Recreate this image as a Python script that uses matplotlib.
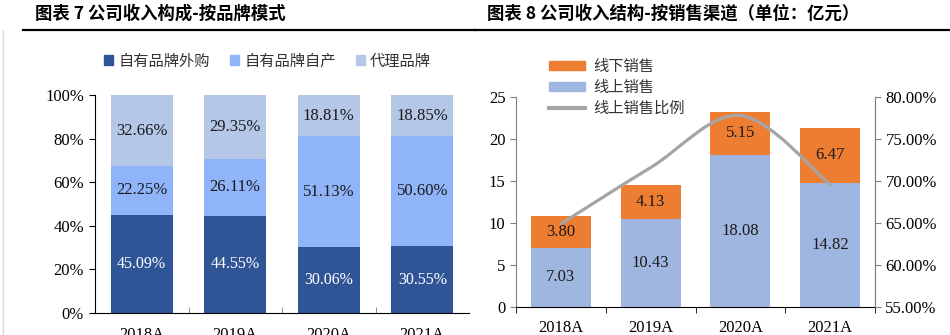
import numpy as np
import matplotlib
matplotlib.use('Agg')
import matplotlib.pyplot as plt
from matplotlib.patches import Patch, PathPatch
from matplotlib.lines import Line2D
from matplotlib.path import Path

plt.rcParams['font.family'] = ['Liberation Serif', 'Noto Sans CJK SC']

years = ['2018A', '2019A', '2020A', '2021A']

# left chart: brand mode share
own_outsourced = [45.09, 44.55, 30.06, 30.55]
own_produced = [22.25, 26.11, 51.13, 50.60]
agency = [32.66, 29.35, 18.81, 18.85]
left_names = ['自有品牌外购', '自有品牌自产', '代理品牌']

# right chart: sales channel (100m yuan)
online = [7.03, 10.43, 18.08, 14.82]
offline = [3.80, 4.13, 5.15, 6.47]
online_ratio = [64.9, 71.6, 77.8, 69.6]
right_names = ['线下销售', '线上销售', '线上销售比例']

c_dark = '#2F5597'
c_mid = '#8FB4F9'
c_light = '#B4C7E7'
c_orange = '#ED7D31'
c_blue = '#9FB6E0'
c_gray = '#A5A5A5'

W, H = 950, 335
fig = plt.figure(figsize=(W / 100, H / 100), dpi=100)
cjk = ['Noto Sans CJK SC', 'DejaVu Sans']

# titles and rules
fig.text(35 / W, 1 - 14 / H, '图表 7 公司收入构成-按品牌模式', family=cjk, fontsize=12.5,
         fontweight='bold', va='center', ha='left')
fig.text(487 / W, 1 - 14 / H, '图表 8 公司收入结构-按销售渠道（单位：亿元）', family=cjk,
         fontsize=12.5, fontweight='bold', va='center', ha='left')
fig.add_artist(Line2D([23 / W, 475 / W], [1 - 29.5 / H] * 2, color='black', lw=1.6))
fig.add_artist(Line2D([475 / W, 1.0], [1 - 29.5 / H] * 2, color='black', lw=1.6))
fig.add_artist(Line2D([3 / W, 3 / W], [0, 1 - 30 / H], color='#D9D9D9', lw=1))

# ---------- left chart ----------
ax = fig.add_axes([95 / W, 1 - 313 / H, 374 / W, 218 / H])
x = np.arange(len(years))
bw = 0.66
s1 = np.array(own_outsourced) / 100
s2 = np.array(own_produced) / 100
s3 = np.array(agency) / 100
ax.bar(x, s1, bw, color=c_dark)
ax.bar(x, s2, bw, bottom=s1, color=c_mid)
ax.bar(x, s3, bw, bottom=s1 + s2, color=c_light)
for i in range(len(years)):
    ax.text(x[i], s1[i] / 2, f'{own_outsourced[i]:.2f}%', ha='center', va='center',
            color='white', fontsize=11.5)
    ax.text(x[i], s1[i] + s2[i] / 2, f'{own_produced[i]:.2f}%', ha='center', va='center',
            color='#1a1a1a', fontsize=12)
    ax.text(x[i], s1[i] + s2[i] + s3[i] / 2, f'{agency[i]:.2f}%', ha='center', va='center',
            color='#1a1a1a', fontsize=12)
ax.set_xlim(-0.5, len(years) - 0.5)
ax.set_ylim(0, 1)
ax.set_yticks(np.arange(0, 1.01, 0.2))
ax.set_yticklabels([f'{int(v * 100)}%' for v in np.arange(0, 1.01, 0.2)], fontsize=12)
ax.set_xticks(x)
ax.set_xticklabels(years, fontsize=12)
ax.tick_params(axis='x', length=0, pad=10)
ax.set_xticks(np.arange(0.5, len(years) - 0.5), minor=True)
ax.tick_params(axis='x', which='minor', direction='in', length=4, color='#808080')
ax.tick_params(axis='y', direction='out', length=4, pad=4)
for sp in ['top', 'right']:
    ax.spines[sp].set_visible(False)
ax.spines['left'].set_color('black')
ax.spines['bottom'].set_color('black')
handles = [Patch(color=c) for c in [c_dark, c_mid, c_light]]
leg = fig.legend(handles, left_names, loc='center left', bbox_to_anchor=(90 / W, 1 - 61 / H),
                 ncol=3, frameon=False, prop={'family': cjk, 'size': 11},
                 handlelength=0.6, handleheight=0.6, handletextpad=0.35, columnspacing=1.3)
for t in leg.get_texts():
    t.set_color('#333333')

# ---------- right chart ----------
ax2 = fig.add_axes([516 / W, 1 - 307 / H, 359 / W, 210 / H])
bw2 = 0.67
ax2.bar(x, online, bw2, color=c_blue)
ax2.bar(x, offline, bw2, bottom=online, color=c_orange)
for i in range(len(years)):
    ax2.text(x[i], online[i] / 2, f'{online[i]:.2f}', ha='center', va='center',
             color='#1a1a1a', fontsize=12)
    ax2.text(x[i], online[i] + offline[i] / 2, f'{offline[i]:.2f}', ha='center', va='center',
             color='#1a1a1a', fontsize=12)
ax2.set_xlim(-0.5, len(years) - 0.5)
ax2.set_ylim(0, 25)
ax2.set_yticks(range(0, 26, 5))
ax2.tick_params(axis='y', labelsize=12, direction='out', length=4, color='#808080')
ax2.set_xticks(x)
ax2.set_xticklabels(years, fontsize=12)
ax2.tick_params(axis='x', length=0, pad=9)
ax2.set_xticks(np.arange(-0.5, len(years)), minor=True)
ax2.tick_params(axis='x', which='minor', direction='out', length=4, color='black')
ax2.spines['top'].set_visible(False)
ax2.spines['left'].set_color('#808080')
ax2.spines['right'].set_color('#808080')
ax2.spines['bottom'].set_color('black')

ax3 = ax2.twinx()
ax3.set_ylim(55, 80)
ax3.set_yticks(range(55, 81, 5))
ax3.set_yticklabels([f'{v:.2f}%' for v in range(55, 81, 5)])
ax3.tick_params(axis='y', labelsize=12, direction='out', length=4, color='#808080')
for sp in ['top', 'left', 'bottom']:
    ax3.spines[sp].set_visible(False)
ax3.spines['right'].set_color('#808080')

# smoothed line through the ratio points (Catmull-Rom as cubic Bezier)
pts = np.column_stack([x, online_ratio]).astype(float)
ext = np.vstack([pts[0], pts, pts[-1]])
verts = [tuple(pts[0])]
codes = [Path.MOVETO]
for i in range(1, len(ext) - 2):
    p0, p1, p2, p3 = ext[i - 1], ext[i], ext[i + 1], ext[i + 2]
    c1 = p1 + (p2 - p0) / 6
    c2 = p2 - (p3 - p1) / 6
    verts += [tuple(c1), tuple(c2), tuple(p2)]
    codes += [Path.CURVE4] * 3
ax3.add_patch(PathPatch(Path(verts, codes), facecolor='none', edgecolor=c_gray, lw=2.3,
                        capstyle='round'))

h2 = [Patch(color=c_orange), Patch(color=c_blue), Line2D([0], [0], color=c_gray, lw=3)]
leg2 = fig.legend(h2, right_names, loc='upper left', bbox_to_anchor=(535 / W, 1 - 44 / H),
                  frameon=False, prop={'family': cjk, 'size': 11}, handlelength=2.4,
                  handleheight=0.5, handletextpad=0.5, labelspacing=0.25)
for t in leg2.get_texts():
    t.set_color('#333333')

fig.savefig('out.png', dpi=100)
